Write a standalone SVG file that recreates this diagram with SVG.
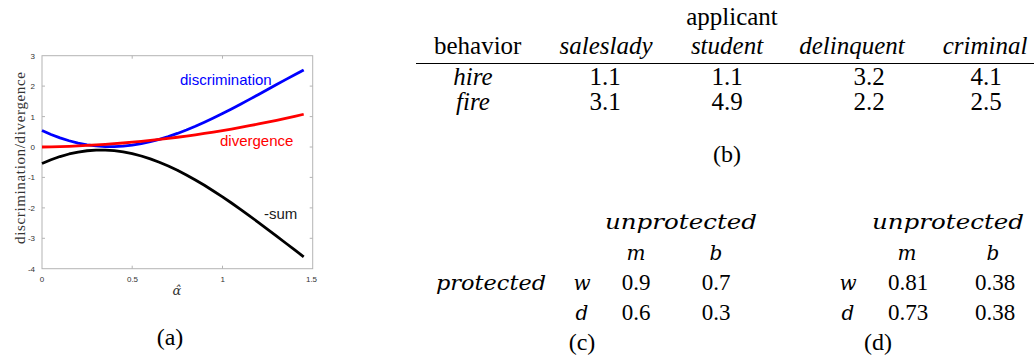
<svg xmlns="http://www.w3.org/2000/svg" width="1034" height="358" viewBox="0 0 1034 358">
<style>
.ax{fill:none;stroke:#b4b4b4;stroke-width:1}
.tk{font-family:"Liberation Sans",Arial,sans-serif;font-size:8px;fill:#333}
.tkm{font-family:"Liberation Sans",Arial,sans-serif;font-size:8px;fill:#333;text-anchor:middle}
.crv{fill:none;stroke-width:2.8;stroke-linejoin:round;stroke-linecap:butt}
.lbl{font-family:"Liberation Sans",Arial,sans-serif;font-size:15px}
.tx{font-family:"Liberation Serif","Times New Roman",serif;font-size:25px;fill:#000;text-anchor:middle}
.ti{font-family:"Liberation Serif","Times New Roman",serif;font-size:25px;font-style:italic;fill:#000;text-anchor:middle}
.mi{font-family:"DejaVu Serif",serif;font-size:20px;font-style:italic;fill:#000}
.mn{font-family:"Liberation Serif","Times New Roman",serif;font-size:23px;fill:#000;text-anchor:middle}
.cap{font-family:"Liberation Serif","Times New Roman",serif;font-size:24px;fill:#000;text-anchor:middle}
</style>
<rect width="1034" height="358" fill="#fff"/>
<g id="plot-a">
<rect class="ax" x="42" y="55.7" width="270.7" height="213"/>
<path class="ax" d="M42 86.1h3M42 116.6h3M42 147h3M42 177.4h3M42 207.9h3M42 238.3h3M312.7 86.1h-3M312.7 116.6h-3M312.7 147h-3M312.7 177.4h-3M312.7 207.9h-3M312.7 238.3h-3M132.2 268.7v-3M222.5 268.7v-3M132.2 55.7v3M222.5 55.7v3"/>
<text class="tk" x="35" y="58.5" text-anchor="end">3</text>
<text class="tk" x="35" y="89" text-anchor="end">2</text>
<text class="tk" x="35" y="119.5" text-anchor="end">1</text>
<text class="tk" x="35" y="150" text-anchor="end">0</text>
<text class="tk" x="35" y="180.3" text-anchor="end">-1</text>
<text class="tk" x="35" y="210.8" text-anchor="end">-2</text>
<text class="tk" x="35" y="241.2" text-anchor="end">-3</text>
<text class="tk" x="35" y="271.5" text-anchor="end">-4</text>
<text class="tkm" x="42" y="281.5">0</text>
<text class="tkm" x="132.5" y="281.5">0.5</text>
<text class="tkm" x="222.7" y="281.5">1</text>
<text class="tkm" x="311.5" y="281.5">1.5</text>
<text x="177" y="295" font-family="DejaVu Serif,serif" font-style="italic" font-size="13" text-anchor="middle" fill="#333">α̂</text>
<text transform="translate(25 158) rotate(-90)" text-anchor="middle" font-family="Liberation Serif,serif" font-size="15" textLength="172" lengthAdjust="spacing" fill="#333">discrimination/divergence</text>
<polyline class="crv" stroke="#0000ff" points="42,130.44 51,134.44 60,137.87 69.1,140.74 78.1,143.05 87.1,144.79 96.1,145.97 105.2,146.6 114.2,146.65 123.2,146.16 132.2,145.15 141.3,143.65 150.3,141.7 159.3,139.33 168.3,136.56 177.4,133.44 186.4,129.99 195.4,126.25 204.4,122.24 213.4,118 222.5,113.57 231.5,108.97 240.5,104.23 249.5,99.39 258.6,94.48 267.6,89.53 276.6,84.57 285.6,79.64 294.7,74.77 303.7,69.98"/>
<polyline class="crv" stroke="#ff0000" points="42,147 51,146.83 60,146.59 69.1,146.28 78.1,145.9 87.1,145.46 96.1,144.95 105.2,144.36 114.2,143.71 123.2,143 132.2,142.21 141.3,141.35 150.3,140.43 159.3,139.44 168.3,138.37 177.4,137.24 186.4,136.05 195.4,134.78 204.4,133.44 213.4,132.04 222.5,130.57 231.5,129.03 240.5,127.42 249.5,125.74 258.6,123.99 267.6,122.18 276.6,120.3 285.6,118.35 294.7,116.33 303.7,114.24"/>
<polyline class="crv" stroke="#000" points="42,163.56 51,159.73 60,156.54 69.1,153.98 78.1,152.05 87.1,150.75 96.1,150.08 105.2,150.04 114.2,150.64 123.2,151.85 132.2,153.65 141.3,156 150.3,158.87 159.3,162.24 168.3,166.06 177.4,170.32 186.4,174.97 195.4,179.97 204.4,185.31 213.4,190.96 222.5,196.86 231.5,203.01 240.5,209.35 249.5,215.87 258.6,222.53 267.6,229.29 276.6,236.13 285.6,243.01 294.7,249.91 303.7,256.78"/>
<text class="lbl" x="180" y="85" fill="#0000ff">discrimination</text>
<text class="lbl" x="220" y="146" fill="#ff0000">divergence</text>
<text class="lbl" x="264" y="218.5" fill="#1a1a1a">-sum</text>
<text class="cap" x="170" y="345">(a)</text>
</g>
<g id="table-b">
<text class="tx" x="732" y="25">applicant</text>
<text class="tx" x="477.7" y="54">behavior</text>
<text class="ti" x="606" y="54">saleslady</text>
<text class="ti" x="727" y="54">student</text>
<text class="ti" x="852" y="54">delinquent</text>
<text class="ti" x="985" y="54">criminal</text>
<line x1="416" y1="63.5" x2="1034" y2="63.5" stroke="#000" stroke-width="1.2"/>
<text class="ti" x="473" y="85">hire</text>
<text class="ti" x="473" y="110">fire</text>
<text class="tx" x="605" y="85">1.1</text>
<text class="tx" x="727" y="85">1.1</text>
<text class="tx" x="869" y="85">3.2</text>
<text class="tx" x="986" y="85">4.1</text>
<text class="tx" x="605" y="110">3.1</text>
<text class="tx" x="727" y="110">4.9</text>
<text class="tx" x="869" y="110">2.2</text>
<text class="tx" x="986" y="110">2.5</text>
<text class="cap" x="727" y="162">(b)</text>
</g>
<g id="table-c">
<text class="mi" x="605" y="229" textLength="152" lengthAdjust="spacingAndGlyphs">unprotected</text>
<text class="mi" x="636" y="260" text-anchor="middle">m</text>
<text class="mi" x="716" y="260" text-anchor="middle">b</text>
<text class="mi" x="436" y="290" textLength="110" lengthAdjust="spacingAndGlyphs">protected</text>
<text class="mi" x="582" y="290" text-anchor="middle">w</text>
<text class="mi" x="582" y="320" text-anchor="middle">d</text>
<text class="mn" x="636" y="290">0.9</text>
<text class="mn" x="716" y="290">0.7</text>
<text class="mn" x="636" y="320">0.6</text>
<text class="mn" x="716" y="320">0.3</text>
<text class="cap" x="582" y="350">(c)</text>
</g>
<g id="table-d">
<text class="mi" x="872" y="229" textLength="152" lengthAdjust="spacingAndGlyphs">unprotected</text>
<text class="mi" x="907" y="260" text-anchor="middle">m</text>
<text class="mi" x="993" y="260" text-anchor="middle">b</text>
<text class="mi" x="848" y="290" text-anchor="middle">w</text>
<text class="mi" x="848" y="320" text-anchor="middle">d</text>
<text class="mn" x="908" y="290">0.81</text>
<text class="mn" x="995" y="290">0.38</text>
<text class="mn" x="908" y="320">0.73</text>
<text class="mn" x="995" y="320">0.38</text>
<text class="cap" x="878" y="350">(d)</text>
</g>
</svg>
